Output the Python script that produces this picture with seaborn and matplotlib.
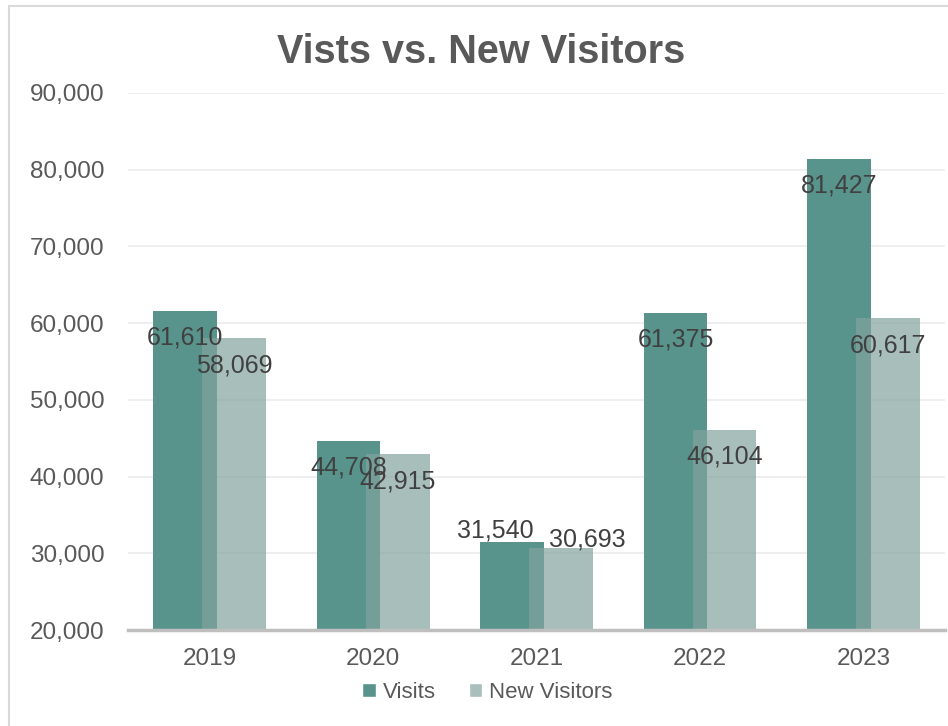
import matplotlib
matplotlib.use("Agg")
import matplotlib.pyplot as plt
from matplotlib.patches import Patch, Rectangle
from matplotlib.ticker import FuncFormatter
import seaborn as sns
import pandas as pd

# Data
years = ["2019", "2020", "2021", "2022", "2023"]
visits = [61610, 44708, 31540, 61375, 81427]
new_visitors = [58069, 42915, 30693, 46104, 60617]
series_names = ["Visits", "New Visitors"]

VISITS_COLOR = "#58948c"
NEW_COLOR = "#83a39f"
TEXT_COLOR = "#595959"

df = pd.DataFrame({
    "Year": years * 2,
    "Count": visits + new_visitors,
    "Series": [series_names[0]] * len(years) + [series_names[1]] * len(years),
})

sns.set_theme(style="white")
plt.rcParams["font.family"] = ["Liberation Sans", "DejaVu Sans"]

fig = plt.figure(figsize=(9.48, 7.26), dpi=100)
ax = fig.add_axes([0.135, 0.132, 0.862, 0.740])

sns.barplot(
    data=df, x="Year", y="Count", hue="Series",
    palette=[VISITS_COLOR, NEW_COLOR], saturation=1,
    width=0.8, ax=ax, legend=False, errorbar=None,
)

# overlap the two series like Excel (overlap + gap width)
bar_w = 0.39
offset = 0.15
for i, cont in enumerate(ax.containers):
    sign = -1 if i == 0 else 1
    for j, p in enumerate(cont.patches):
        p.set_width(bar_w)
        p.set_x(j + sign * offset - bar_w / 2)
        p.set_edgecolor("none")
        if i == 1:
            p.set_alpha(0.7)
            p.set_zorder(3)
        else:
            p.set_zorder(2)

ax.set_ylim(20000, 90000)
ax.set_xlim(-0.5, 4.5)

# data labels: inside end; the short 2021 pair sits above the bars, pushed apart
label_shift = {(0, "2021"): (-12, 8), (1, "2021"): (19, 6.5)}
for i, cont in enumerate(ax.containers):
    vals = visits if i == 0 else new_visitors
    for p, v, yr in zip(cont.patches, vals, years):
        dxy = label_shift.get((i, yr), (0, -19.5))
        ax.annotate(f"{v:,}", (p.get_x() + p.get_width() / 2, p.get_height()),
                    xytext=dxy, textcoords="offset points",
                    ha="center", va="center", fontsize=18, color="#404040",
                    zorder=5)

ax.set_yticks(range(20000, 90001, 10000))
ax.yaxis.set_major_formatter(FuncFormatter(lambda v, _: f"{int(v):,}"))
ax.grid(axis="y", color="#ebebeb", linewidth=1.2, zorder=0)
ax.set_axisbelow(True)
ax.set_xlabel("")
ax.set_ylabel("")
for s in ["top", "right", "left"]:
    ax.spines[s].set_visible(False)
ax.spines["bottom"].set_color("#bfbfbf")
ax.spines["bottom"].set_linewidth(2.5)
ax.spines["bottom"].set_zorder(6)
ax.tick_params(axis="both", length=0, labelsize=17.5, labelcolor=TEXT_COLOR)
ax.tick_params(axis="y", pad=17)
ax.tick_params(axis="x", pad=13)

fig.text(0.508, 0.929, "Vists vs. New Visitors", ha="center", va="center",
         fontsize=28.5, fontweight="bold", color=TEXT_COLOR)

handles = [Patch(facecolor=VISITS_COLOR), Patch(facecolor="#a9bfbc")]
fig.legend(handles, series_names, loc="center", bbox_to_anchor=(0.514, 0.046),
           ncol=2, frameon=False, fontsize=16, handlelength=0.6,
           handleheight=0.6, handletextpad=0.3, columnspacing=1.5,
           labelcolor=TEXT_COLOR)

fig.patches.append(Rectangle((0.009, -0.05), 1.2, 1.042, transform=fig.transFigure,
                             fill=False, edgecolor="#d9d9d9", linewidth=1.5))

fig.savefig("out.png", dpi=100)
